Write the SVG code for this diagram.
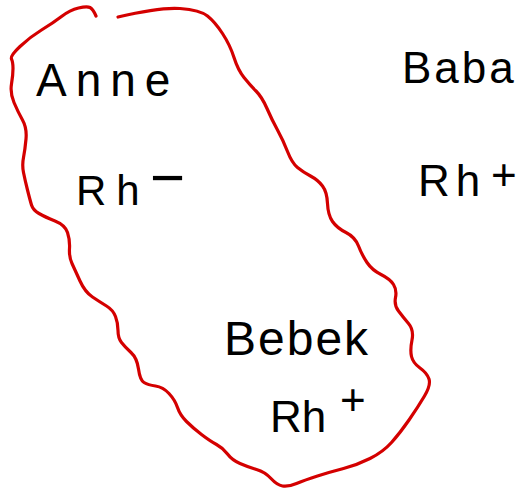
<svg xmlns="http://www.w3.org/2000/svg" width="523" height="493" viewBox="0 0 523 493">
<style>
.lbl{font-family:"Liberation Sans","DejaVu Sans",sans-serif;fill:#000}
.loop{fill:none;stroke:#d40000;stroke-width:3.2;stroke-linecap:round;stroke-linejoin:round}
</style>
<rect width="523" height="493" fill="#fff"/>
<g id="connectors">
<path class="loop" d="M118,17 Q160,7 180,8.5 Q200,10 207.5,16 Q215,22 222.5,33.5 Q230,45 234,57.5 Q238,70 244,77.5 Q250,85 256,91 Q262,97 267,108.5 Q272,120 277.5,130 Q283,140 287.5,151.5 Q292,163 297.5,167.5 Q303,172 310.5,176 Q318,180 322.5,186 Q327,192 327.5,203.5 Q328,215 332.5,221.5 Q337,228 346,232.5 Q355,237 358.5,246 Q362,255 367,262.5 Q372,270 381,274.5 Q390,279 393.5,284.5 Q397,290 395.5,297.5 Q394,305 398.5,311 Q403,317 408.5,323.5 Q414,330 412,340 Q410,350 411.5,356.5 Q413,363 420,368 Q427,373 429,379 Q431,385 424.5,396 Q418,407 409,420 Q400,433 391.5,442.5 Q383,452 370,458.5 Q357,465 343.5,468.5 Q330,472 317.5,476 Q305,480 296.5,483.5 Q288,487 282.5,486 Q277,485 271,478.5 Q265,472 256.5,469.5 Q248,467 240,463.5 Q232,460 227.5,454 Q223,448 216.5,444.5 Q210,441 201.5,434.5 Q193,428 186.5,421.5 Q180,415 177.5,407.5 Q175,400 169,393.5 Q163,387 155.5,386 Q148,385 144,382.5 Q140,380 138.5,369 Q137,358 131,352.5 Q125,347 121.5,342.5 Q118,338 118,330.5 Q118,323 115.5,316.5 Q113,310 106.5,306 Q100,302 92.5,297 Q85,292 80,281 Q75,270 72,263.5 Q69,257 69.5,248.5 Q70,240 67.5,232.5 Q65,225 55,221 Q45,217 39,213.5 Q33,210 31.5,205 Q30,200 27.5,190 Q25,180 23.5,172.5 Q22,165 23.5,157.5 Q25,150 26,139 Q27,128 22.5,120 Q18,112 14,102.5 Q10,93 11.5,84 Q13,75 13,68.5 Q13,62 11.5,59 Q10,56 20,46.5 Q30,37 41.5,30 Q53,23 61.5,16.5 Q70,10 78.5,8 Q87,6 90,7.5 Q93,9 96,16"/>
</g>
<g id="anne"><text class="lbl" x="36" y="96" font-size="46" letter-spacing="9">Anne</text></g>
<g id="baba"><text class="lbl" x="402" y="83" font-size="44"><tspan letter-spacing="3">Bab</tspan>a</text></g>
<g id="rh-minus"><text class="lbl" x="76" y="205" font-size="42"><tspan letter-spacing="10">Rh</tspan><tspan x="150" y="198" font-size="60">−</tspan></text></g>
<g id="rh-plus-baba"><text class="lbl" x="418" y="196" font-size="44"><tspan letter-spacing="6">Rh</tspan><tspan x="491" y="190">+</tspan></text></g>
<g id="bebek"><text class="lbl" x="224" y="355" font-size="48" letter-spacing="2">Bebek</text></g>
<g id="rh-plus-bebek"><text class="lbl" x="270" y="432" font-size="44"><tspan>Rh</tspan><tspan x="340" y="415">+</tspan></text></g>
</svg>
